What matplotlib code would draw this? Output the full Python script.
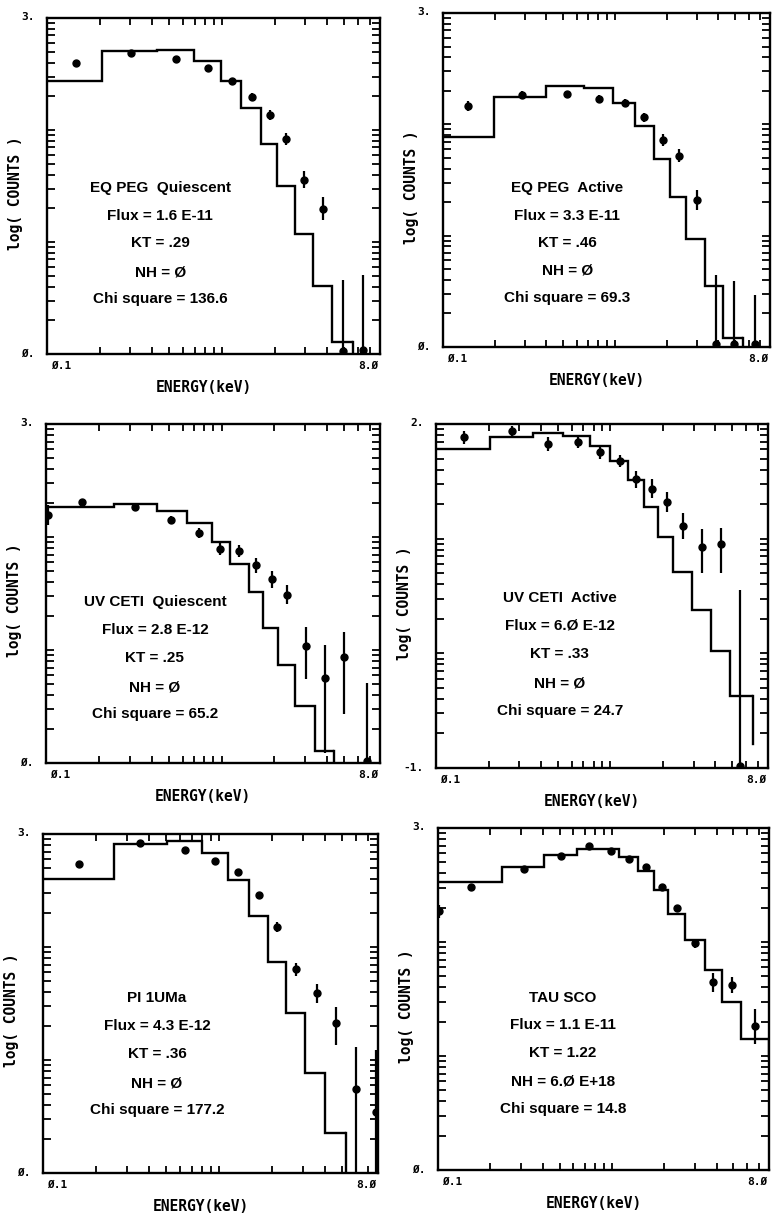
import numpy as np
import matplotlib
matplotlib.use("Agg")
import matplotlib.pyplot as plt

# ---------------- spectra: model steps (log counts) and measured points ----------------
# EQ PEG quiescent
eqq_edges = [0.1, 0.206, 0.425, 0.694, 0.985, 1.28, 1.67, 2.07, 2.62, 3.33, 4.28, 5.59]
eqq_model = [2.440, 2.702, 2.711, 2.619, 2.440, 2.196, 1.875, 1.503, 1.071, 0.610, 0.107]
eqq_tail = 0.0
eqq_energy = [0.147, 0.302, 0.547, 0.827, 1.14, 1.49, 1.88, 2.32, 2.96, 3.76, 4.90, 6.37]
eqq_logc = [2.598, 2.688, 2.634, 2.554, 2.435, 2.292, 2.137, 1.923, 1.557, 1.298, 0.03, 0.04]
eqq_err_lo = [0.01, 0.01, 0.01, 0.01, 0.02, 0.036, 0.045, 0.054, 0.074, 0.104, 0.03, 0.04]
eqq_err_hi = [0.01, 0.01, 0.01, 0.01, 0.02, 0.036, 0.045, 0.054, 0.074, 0.104, 0.634, 0.668]

# EQ PEG active
eqa_edges = [0.1, 0.197, 0.400, 0.662, 0.979, 1.31, 1.69, 2.09, 2.58, 3.34, 4.28, 5.59]
eqa_model = [1.890, 2.244, 2.346, 2.325, 2.196, 1.986, 1.686, 1.350, 0.969, 0.546, 0.081]
eqa_tail = 0.0
eqa_energy = [0.140, 0.289, 0.530, 0.811, 1.14, 1.48, 1.90, 2.37, 3.02, 3.87, 4.94, 6.54]
eqa_logc = [2.169, 2.265, 2.271, 2.229, 2.196, 2.064, 1.860, 1.719, 1.320, 0.03, 0.03, 0.03]
eqa_err_lo = [0.045, 0.03, 0.02, 0.03, 0.03, 0.042, 0.054, 0.06, 0.09, 0.03, 0.03, 0.03]
eqa_err_hi = [0.045, 0.03, 0.02, 0.03, 0.03, 0.042, 0.054, 0.06, 0.09, 0.615, 0.561, 0.435]

# UV CETI quiescent
uvq_edges = [0.1, 0.243, 0.428, 0.640, 0.881, 1.12, 1.43, 1.73, 2.11, 2.63, 3.41, 4.40]
uvq_model = [2.269, 2.293, 2.231, 2.122, 1.960, 1.759, 1.509, 1.193, 0.863, 0.501, 0.109]
uvq_tail = 0.0
uvq_energy = [0.103, 0.160, 0.320, 0.517, 0.746, 0.982, 1.26, 1.57, 1.93, 2.37, 3.03, 3.89, 5.01, 6.71]
uvq_logc = [2.195, 2.307, 2.269, 2.151, 2.039, 1.892, 1.877, 1.748, 1.627, 1.488, 1.031, 0.751, 0.937, 0.02]
uvq_err_lo = [0.09, 0.024, 0.024, 0.035, 0.044, 0.053, 0.053, 0.065, 0.074, 0.083, 0.29, 0.66, 0.50, 0.02]
uvq_err_hi = [0.09, 0.024, 0.024, 0.035, 0.044, 0.053, 0.053, 0.065, 0.074, 0.083, 0.17, 0.295, 0.22, 0.69]

# UV CETI active
uva_edges = [0.1, 0.203, 0.359, 0.537, 0.764, 0.993, 1.265, 1.55, 1.88, 2.29, 2.94, 3.79, 4.83, 6.56]
uva_model = [1.781, 1.883, 1.918, 1.892, 1.810, 1.679, 1.510, 1.279, 1.017, 0.707, 0.374, 0.016, -0.370]
uva_tail = -0.787
uva_energy = [0.144, 0.272, 0.441, 0.655, 0.871, 1.13, 1.40, 1.72, 2.10, 2.61, 3.35, 4.29, 5.55]
uva_logc = [1.883, 1.936, 1.825, 1.840, 1.752, 1.679, 1.518, 1.437, 1.320, 1.110, 0.929, 0.950, -0.98]
uva_err_lo = [0.058, 0.044, 0.058, 0.053, 0.058, 0.053, 0.073, 0.082, 0.088, 0.11, 0.23, 0.248, 0.02]
uva_err_hi = [0.058, 0.044, 0.058, 0.053, 0.058, 0.053, 0.073, 0.082, 0.088, 0.11, 0.152, 0.146, 1.535]

# PI 1 UMa
pi_edges = [0.1, 0.2515, 0.505, 0.804, 1.12, 1.48, 1.89, 2.39, 3.07, 3.99, 5.25]
pi_model = [2.601, 2.908, 2.941, 2.829, 2.593, 2.274, 1.869, 1.417, 0.889, 0.354]
pi_tail = 0.0
pi_energy = [0.161, 0.356, 0.641, 0.949, 1.29, 1.68, 2.14, 2.72, 3.58, 4.64, 5.98, 7.76]
pi_logc = [2.734, 2.917, 2.858, 2.764, 2.660, 2.460, 2.179, 1.801, 1.589, 1.329, 0.747, 0.540]
pi_err_lo = [0.01, 0.01, 0.01, 0.01, 0.01, 0.01, 0.044, 0.06, 0.083, 0.198, 0.747, 0.54]
pi_err_hi = [0.01, 0.01, 0.01, 0.01, 0.01, 0.01, 0.044, 0.06, 0.083, 0.142, 0.369, 0.546]

# TAU SCO
tau_edges = [0.1, 0.233, 0.408, 0.633, 1.10, 1.42, 1.75, 2.11, 2.63, 3.42, 4.32, 5.55, 8.0]
tau_model = [2.523, 2.658, 2.766, 2.816, 2.742, 2.620, 2.453, 2.248, 2.020, 1.756, 1.472, 1.147]
tau_tail = 0.995
tau_energy = [0.101, 0.155, 0.313, 0.508, 0.739, 0.983, 1.26, 1.57, 1.93, 2.37, 3.00, 3.82, 4.91, 6.68]
tau_logc = [2.268, 2.479, 2.640, 2.757, 2.839, 2.795, 2.728, 2.655, 2.482, 2.298, 1.990, 1.645, 1.624, 1.259]
tau_err_lo = [0.06, 0.01, 0.01, 0.01, 0.01, 0.01, 0.01, 0.01, 0.01, 0.01, 0.04, 0.08, 0.07, 0.15]
tau_err_hi = [0.06, 0.01, 0.01, 0.01, 0.01, 0.01, 0.01, 0.01, 0.01, 0.01, 0.04, 0.08, 0.07, 0.15]

# fit annotations
eqq_text = ["EQ PEG  Quiescent", "Flux = 1.6 E-11", "KT = .29", "NH = Ø", "Chi square = 136.6"]
eqa_text = ["EQ PEG  Active", "Flux = 3.3 E-11", "KT = .46", "NH = Ø", "Chi square = 69.3"]
uvq_text = ["UV CETI  Quiescent", "Flux = 2.8 E-12", "KT = .25", "NH = Ø", "Chi square = 65.2"]
uva_text = ["UV CETI  Active", "Flux = 6.Ø E-12", "KT = .33", "NH = Ø", "Chi square = 24.7"]
pi_text = ["PI 1UMa", "Flux = 4.3 E-12", "KT = .36", "NH = Ø", "Chi square = 177.2"]
tau_text = ["TAU SCO", "Flux = 1.1 E-11", "KT = 1.22", "NH = 6.Ø E+18", "Chi square = 14.8"]

# y ranges (log counts) and their end labels
y_ranges = [(0, 3), (0, 3), (0, 3), (-1, 2), (0, 3), (0, 3)]
x_labels = ("Ø.1", "8.Ø")

# ---------------- figure layout (pixel boxes: left, right, top, bottom) ----------------
W, H = 777, 1213
fig = plt.figure(figsize=(W / 100, H / 100), dpi=100)

boxes = [(47, 380, 18, 354), (443, 770, 13, 347),
         (46, 380, 424, 763), (436, 768, 424, 768),
         (43, 378, 834, 1173), (438, 769, 828, 1170)]
text_x = [0.34, 0.38, 0.326, 0.373, 0.34, 0.378]
text_y = [[0.494, 0.411, 0.330, 0.244, 0.164],
          [0.476, 0.392, 0.311, 0.228, 0.147],
          [0.475, 0.392, 0.310, 0.224, 0.145],
          [0.494, 0.413, 0.331, 0.247, 0.166],
          [0.516, 0.434, 0.351, 0.265, 0.186],
          [0.503, 0.424, 0.342, 0.260, 0.178]]

panels = [
    (eqq_edges, eqq_model, eqq_tail, eqq_energy, eqq_logc, eqq_err_lo, eqq_err_hi, eqq_text),
    (eqa_edges, eqa_model, eqa_tail, eqa_energy, eqa_logc, eqa_err_lo, eqa_err_hi, eqa_text),
    (uvq_edges, uvq_model, uvq_tail, uvq_energy, uvq_logc, uvq_err_lo, uvq_err_hi, uvq_text),
    (uva_edges, uva_model, uva_tail, uva_energy, uva_logc, uva_err_lo, uva_err_hi, uva_text),
    (pi_edges, pi_model, pi_tail, pi_energy, pi_logc, pi_err_lo, pi_err_hi, pi_text),
    (tau_edges, tau_model, tau_tail, tau_energy, tau_logc, tau_err_lo, tau_err_hi, tau_text),
]

mono = "DejaVu Sans Mono"
label_font = "Liberation Sans"
x_tick_pos = [0.1 * k for k in range(1, 10)] + list(range(1, 9))


def decade_ticks(lo, hi):
    pos = []
    for d in range(lo, hi):
        for k in range(1, 10):
            pos.append(d + np.log10(k))
    pos.append(hi)
    return pos


for i, (edges, model, tail, energy, logc, elo, ehi, lines) in enumerate(panels):
    l, r, t, b = boxes[i]
    ax = fig.add_axes([l / W, 1 - b / H, (r - l) / W, (b - t) / H])
    lo, hi = y_ranges[i]

    # folded model as a step histogram
    ax.stairs(model, edges, baseline=None, color="black", lw=1.7)
    ax.plot([edges[-1], edges[-1]], [model[-1], tail], color="black", lw=1.7)

    # observed counts with error bars
    ax.errorbar(energy, logc, yerr=[elo, ehi], fmt="o", color="black",
                ms=5, elinewidth=1.6, capsize=0)

    ax.set_xscale("log")
    ax.set_xlim(0.1, 8.0)
    ax.set_ylim(lo, hi)
    ax.xaxis.set_major_locator(matplotlib.ticker.FixedLocator(x_tick_pos))
    ax.xaxis.set_minor_locator(matplotlib.ticker.NullLocator())
    ax.yaxis.set_major_locator(matplotlib.ticker.FixedLocator(decade_ticks(lo, hi)))
    ax.yaxis.set_minor_locator(matplotlib.ticker.NullLocator())
    ax.tick_params(axis="x", direction="in", top=True, length=5, width=1.3,
                   labelbottom=False)
    ax.tick_params(axis="y", direction="in", right=True, length=6, width=1.3,
                   labelleft=False)
    for s in ax.spines.values():
        s.set_linewidth(1.7)

    # axis end labels
    ax.annotate(f"{hi}.", xy=(0, 1), xycoords="axes fraction", xytext=(-9, 1),
                textcoords="offset points", ha="right", va="center",
                fontsize=8, family=mono, weight="bold")
    ax.annotate(f"{lo}.".replace("0", "Ø"), xy=(0, 0), xycoords="axes fraction",
                xytext=(-9, 0), textcoords="offset points", ha="right", va="center",
                fontsize=8, family=mono, weight="bold")
    ax.annotate(x_labels[0], xy=(0, 0), xycoords="axes fraction", xytext=(3, -5),
                textcoords="offset points", ha="left", va="top",
                fontsize=8, family=mono, weight="bold")
    ax.annotate(x_labels[1], xy=(1, 0), xycoords="axes fraction", xytext=(-1, -5),
                textcoords="offset points", ha="right", va="top",
                fontsize=8, family=mono, weight="bold")

    # axis titles
    ax.annotate("ENERGY(keV)", xy=(0.47, 0), xycoords="axes fraction", xytext=(0, -24),
                textcoords="offset points", ha="center", va="center",
                fontsize=10.5, family=mono, weight="bold")
    ax.annotate("log( COUNTS )", xy=(0, 0.48), xycoords="axes fraction", xytext=(-23, 0),
                textcoords="offset points", ha="center", va="center", rotation=90,
                fontsize=10.5, family=mono, weight="bold")

    # fit parameters
    for txt, ty in zip(lines, text_y[i]):
        ax.text(text_x[i], ty, txt, transform=ax.transAxes, ha="center", va="center",
                fontsize=11, family=label_font, weight="bold")

fig.savefig("out.png", dpi=100, facecolor="white")
